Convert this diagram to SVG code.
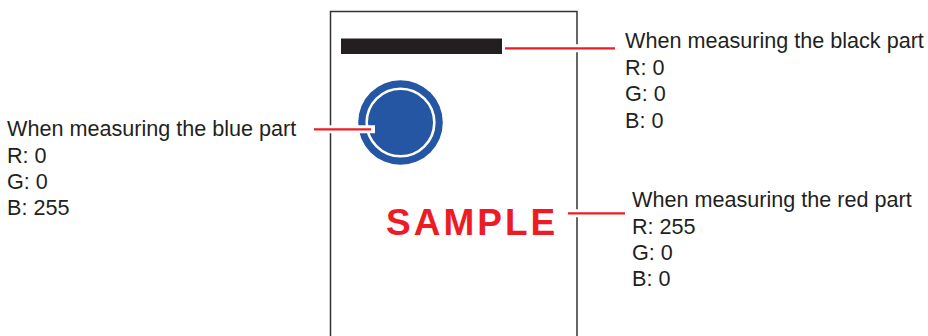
<svg xmlns="http://www.w3.org/2000/svg" width="928" height="336" viewBox="0 0 928 336">
<style>
.lbl{font-family:"Liberation Sans",Arial,sans-serif;font-size:21.6px;fill:#231f20}
.halo{stroke:#fff;stroke-width:8;fill:none;stroke-linecap:square}
.lead{stroke:#ed1c24;stroke-width:2.2;fill:none}
</style>
<rect width="928" height="336" fill="#fff"/>
<g id="sample-card">
<rect x="330.5" y="11.5" width="246.5" height="340" fill="#fff" stroke="#333" stroke-width="1.5"/>
<rect x="341" y="38.5" width="161" height="15.5" fill="#231f20"/>
<circle cx="400.5" cy="122.5" r="42.3" fill="#2456a4"/>
<circle cx="400.5" cy="122.5" r="33.8" fill="none" stroke="#fff" stroke-width="2.6"/>
<text x="386" y="235" font-family="'Liberation Sans',Arial,sans-serif" font-weight="bold" font-size="37" letter-spacing="3" fill="#ed1c24">SAMPLE</text>
</g>
<g id="connectors">
<line class="halo" x1="507" y1="48.3" x2="612" y2="48.3"/>
<line class="lead" x1="505" y1="48.3" x2="615" y2="48.3"/>
<line class="halo" x1="316" y1="129.3" x2="371" y2="129.3"/>
<line class="lead" x1="314" y1="129.3" x2="371" y2="129.3"/>
<line class="halo" x1="571" y1="213.3" x2="622" y2="213.3"/>
<line class="lead" x1="568" y1="213.3" x2="625" y2="213.3"/>
</g>
<g id="label-black">
<text class="lbl" x="625" y="48.3">When measuring the black part</text>
<text class="lbl" x="625" y="75">R: 0</text>
<text class="lbl" x="625" y="101.3">G: 0</text>
<text class="lbl" x="625" y="127.5">B: 0</text>
</g>
<g id="label-blue">
<text class="lbl" x="7" y="135.5">When measuring the blue part</text>
<text class="lbl" x="7" y="162.5">R: 0</text>
<text class="lbl" x="7" y="188.8">G: 0</text>
<text class="lbl" x="7" y="214.5">B: 255</text>
</g>
<g id="label-red">
<text class="lbl" x="632" y="207">When measuring the red part</text>
<text class="lbl" x="632" y="234">R: 255</text>
<text class="lbl" x="632" y="260.3">G: 0</text>
<text class="lbl" x="632" y="286.3">B: 0</text>
</g>
</svg>
